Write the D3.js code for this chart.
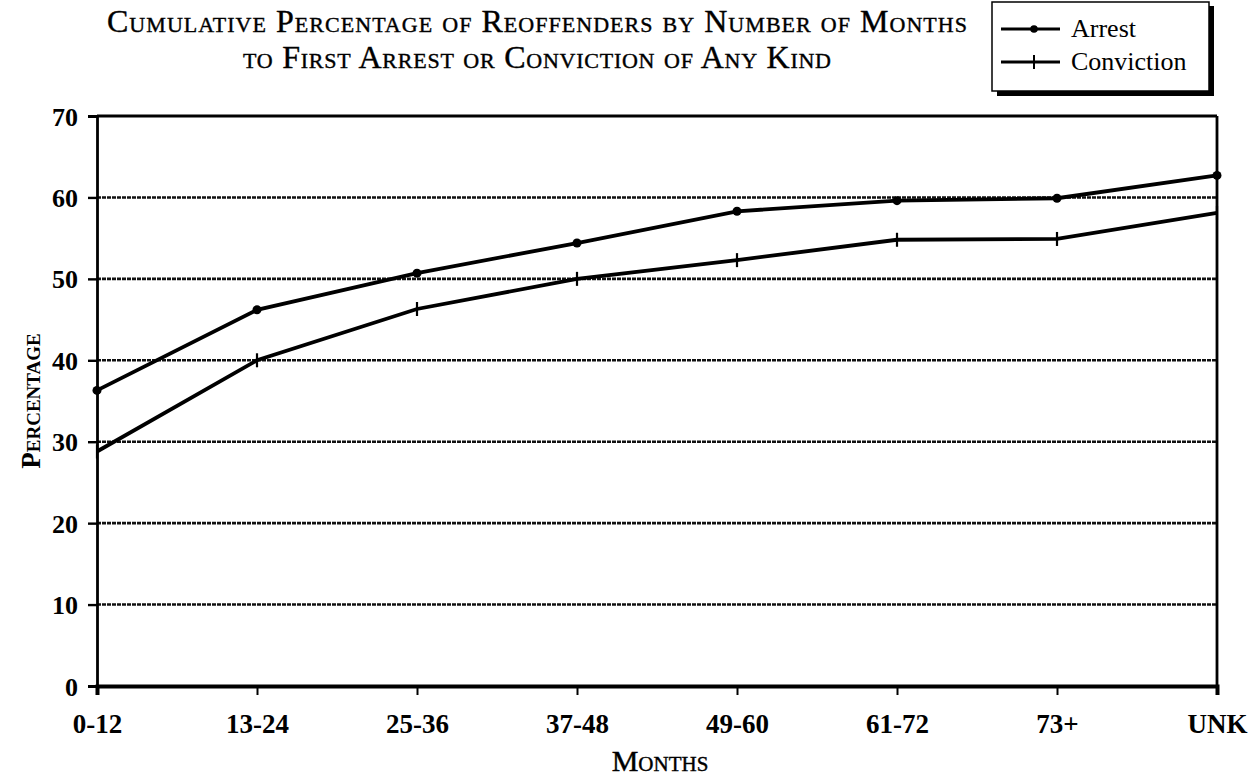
<!DOCTYPE html>
<html><head><meta charset="utf-8">
<script src="https://cdn.jsdelivr.net/npm/d3@7"></script>
<style>
body{margin:0;background:#fff;}
text{font-family:"Liberation Serif","Times New Roman",serif;fill:#000;}
</style></head>
<body><svg id="c" width="1252" height="777"></svg>
<script>
const categories = ["0-12","13-24","25-36","37-48","49-60","61-72","73+","UNK"];
const arrest = [36.3, 46.2, 50.7, 54.4, 58.3, 59.6, 59.9, 62.7];
const conviction = [28.8, 40.0, 46.3, 50.0, 52.3, 54.8, 54.9, 58.1];
const yTicks = [0,10,20,30,40,50,60,70];
const titleLines = ["Cumulative Percentage of Reoffenders by Number of Months","to First Arrest or Conviction of Any Kind"];
const seriesNames = ["Arrest","Conviction"];

const svg = d3.select("#c");
const L=97,R=1217,T=116,B=686;
const titleWidths = [860, 588];
const x = d3.scalePoint().domain(categories).range([L,R]);
const y = d3.scaleLinear().domain([0,70]).range([B,T]);

// gridlines
svg.append("g").selectAll("line").data(yTicks.filter(d=>d>0&&d<70)).join("line")
  .attr("x1",L).attr("x2",R).attr("y1",d=>y(d)).attr("y2",d=>y(d))
  .attr("stroke","#111").attr("stroke-width",2.6).attr("stroke-dasharray","4 1");

// frame top and right
svg.append("line").attr("x1",L).attr("x2",R).attr("y1",T).attr("y2",T).attr("stroke","#000").attr("stroke-width",2.8);
svg.append("line").attr("x1",R).attr("x2",R).attr("y1",T).attr("y2",B).attr("stroke","#000").attr("stroke-width",2.8);

// y axis
const yAxis = svg.append("g").attr("transform",`translate(${L},0)`)
  .call(d3.axisLeft(y).tickValues(yTicks).tickSize(9).tickPadding(10));
yAxis.select(".domain").attr("stroke","#000").attr("stroke-width",2.8);
yAxis.selectAll(".tick line").attr("stroke","#000").attr("stroke-width",2.4);
yAxis.selectAll("text").attr("font-size",26).attr("font-weight","bold")
  .attr("font-family","'Liberation Serif',serif").attr("dy","0.35em");

// x axis
const xAxis = svg.append("g").attr("transform",`translate(0,${B})`)
  .call(d3.axisBottom(x).tickSize(9).tickPadding(12));
xAxis.select(".domain").attr("stroke","#000").attr("stroke-width",4);
xAxis.selectAll(".tick line").attr("stroke","#000").attr("stroke-width",2);
xAxis.selectAll("text").attr("font-size",27).attr("font-weight","bold")
  .attr("font-family","'Liberation Serif',serif").attr("y",47).attr("dy",0);

// lines
const line = d3.line().x((d,i)=>x(categories[i])).y(d=>y(d));
svg.append("path").datum(arrest).attr("d",line).attr("fill","none").attr("stroke","#000").attr("stroke-width",3.8);
svg.append("path").datum(conviction).attr("d",line).attr("fill","none").attr("stroke","#000").attr("stroke-width",3.8);
svg.append("g").selectAll("circle").data(arrest).join("circle")
  .attr("cx",(d,i)=>x(categories[i])).attr("cy",d=>y(d)).attr("r",4.5).attr("fill","#000");
svg.append("g").selectAll("line").data(conviction).join("line")
  .attr("x1",(d,i)=>x(categories[i])).attr("x2",(d,i)=>x(categories[i]))
  .attr("y1",d=>y(d)-7).attr("y2",d=>y(d)+7).attr("stroke","#000").attr("stroke-width",2.2);

// title
svg.append("g").selectAll("text").data(titleLines).join("text")
  .attr("x",537).attr("y",(d,i)=>32+i*36).attr("text-anchor","middle")
  .attr("font-size",32).style("font-variant","small-caps")
  .attr("textLength",(d,i)=>titleWidths[i]).attr("lengthAdjust","spacing")
  .attr("stroke","#000").attr("stroke-width",0.4).text(d=>d);

// axis titles
svg.append("text").attr("x",660).attr("y",771).attr("text-anchor","middle")
  .attr("font-size",30).style("font-variant","small-caps")
  .attr("stroke","#000").attr("stroke-width",0.4).text("Months");
svg.append("text").attr("transform","translate(40,401) rotate(-90)").attr("text-anchor","middle")
  .attr("font-size",27).attr("font-weight","bold").style("font-variant","small-caps").text("Percentage");

// legend
const lg = svg.append("g");
lg.append("rect").attr("x",997).attr("y",6).attr("width",217).attr("height",90).attr("fill","#000");
lg.append("rect").attr("x",992).attr("y",2).attr("width",217).attr("height",89).attr("fill","#fff").attr("stroke","#000").attr("stroke-width",1.5);
seriesNames.forEach((n,i)=>{
  const ly = 29+i*33;
  lg.append("line").attr("x1",1001).attr("x2",1060).attr("y1",ly).attr("y2",ly).attr("stroke","#000").attr("stroke-width",2.8);
  if(i===0) lg.append("circle").attr("cx",1034).attr("cy",ly).attr("r",3.8).attr("fill","#000");
  else lg.append("line").attr("x1",1034).attr("x2",1034).attr("y1",ly-7).attr("y2",ly+7).attr("stroke","#000").attr("stroke-width",2);
  lg.append("text").attr("x",1071).attr("y",ly+8).attr("font-size",26).text(n);
});
</script></body></html>
